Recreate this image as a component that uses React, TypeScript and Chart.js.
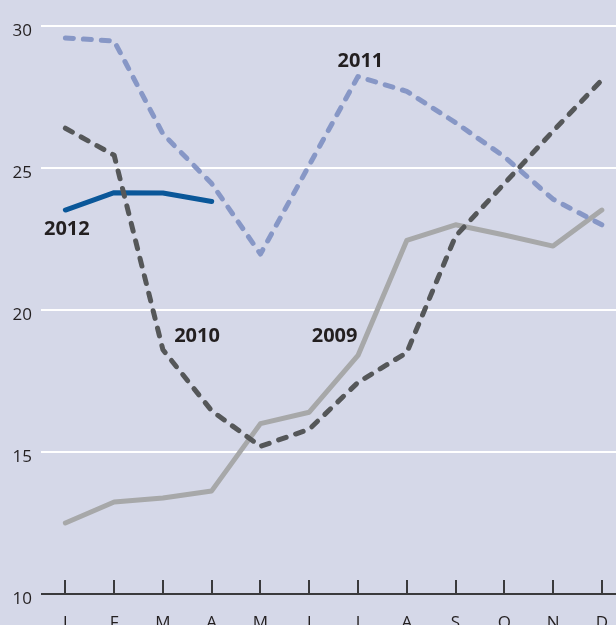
import React, { useEffect, useRef } from 'react';
import { Chart, registerables } from 'chart.js';
Chart.register(...registerables);

const months = ['J', 'F', 'M', 'A', 'M', 'J', 'J', 'A', 'S', 'O', 'N', 'D'];
const yTicks = [10, 15, 20, 25, 30];

const s2009 = [12.5, 13.24, 13.38, 13.63, 16.0, 16.4, 18.4, 22.45, 23.0, 22.64, 22.25, 23.52];
const s2010 = [26.4, 25.45, 18.6, 16.45, 15.2, 15.8, 17.45, 18.5, 22.6, 24.45, 26.3, 28.1];
const s2011 = [29.58, 29.47, 26.2, 24.45, 21.97, 25.1, 28.22, 27.7, 26.6, 25.4, 23.9, 23.0];
const s2012 = [23.52, 24.13, 24.12, 23.82];

const seriesNames = ['2009', '2010', '2011', '2012'];
// label anchor in data space: [category index, value]
const labelX = [5.52, 2.7, 6.05, 0.03];
const labelY = [19.08, 19.08, 28.75, 22.85];

const BG = '#d5d8e8';
const TEXT = '#231f20';
const C2009 = '#a7a8a9';
const C2010 = '#555759';
const C2011 = '#8797c6';
const C2012 = '#0a5799';
const FONT = '"Open Sans", "Noto Sans", sans-serif';

export default function App() {
  const ref = useRef<HTMLCanvasElement>(null);

  useEffect(() => {
    if (!ref.current) return;
    const bgPlugin = {
      id: 'bgFill',
      beforeDraw(chart: any) {
        const ctx = chart.ctx;
        ctx.save();
        ctx.fillStyle = BG;
        ctx.fillRect(0, 0, chart.width, chart.height);
        ctx.restore();
      },
    };
    const axisPlugin = {
      id: 'axisAndLabels',
      afterDraw(chart: any) {
        const ctx = chart.ctx;
        const xs = chart.scales.x;
        const ys = chart.scales.y;
        const yb = ys.getPixelForValue(yTicks[0]);
        ctx.save();
        ctx.strokeStyle = '#3a3a3c';
        ctx.lineWidth = 2;
        ctx.beginPath();
        ctx.moveTo(chart.chartArea.left, yb);
        ctx.lineTo(chart.chartArea.right, yb);
        months.forEach((_, i) => {
          const px = Math.round(xs.getPixelForValue(i));
          ctx.moveTo(px, yb);
          ctx.lineTo(px, yb - 14);
        });
        ctx.stroke();
        ctx.fillStyle = TEXT;
        ctx.font = `bold 20px ${FONT}`;
        ctx.textAlign = 'center';
        ctx.textBaseline = 'middle';
        seriesNames.forEach((n, i) => {
          ctx.fillText(n, xs.getPixelForValue(labelX[i]), ys.getPixelForValue(labelY[i]));
        });
        ctx.restore();
      },
    };

    const common = {
      pointRadius: 0,
      pointHoverRadius: 0,
      borderWidth: 5,
      tension: 0,
      fill: false,
      borderJoinStyle: 'round',
      borderCapStyle: 'round',
    };

    const chart = new Chart(ref.current, {
      type: 'line',
      data: {
        labels: months,
        datasets: [
          { ...common, label: '2009', data: s2009, borderColor: C2009, order: 3 },
          { ...common, label: '2011', data: s2011, borderColor: C2011, borderDash: [8, 10], order: 2 },
          { ...common, label: '2012', data: s2012, borderColor: C2012, order: 1 },
          { ...common, label: '2010', data: s2010, borderColor: C2010, borderDash: [8, 10], order: 0 },
        ] as any,
      },
      options: {
        responsive: false,
        animation: false,
        devicePixelRatio: 1,
        layout: { padding: { top: 26, left: 0, right: 0, bottom: 0 } },
        plugins: { legend: { display: false }, tooltip: { enabled: false } },
        scales: {
          x: {
            type: 'category',
            offset: true,
            grid: { display: false, drawTicks: false },
            border: { display: false },
            ticks: {
              color: TEXT,
              font: { family: FONT, size: 17 },
              padding: 19,
              maxRotation: 0,
              autoSkip: false,
            },
            afterFit: (s: any) => {
              s.height = 51;
            },
          },
          y: {
            min: 10,
            max: 30,
            afterBuildTicks: (s: any) => {
              s.ticks = yTicks.map((v) => ({ value: v }));
            },
            ticks: {
              color: TEXT,
              font: { family: FONT, size: 17 },
              padding: 9,
              labelOffset: 5,
            },
            grid: {
              color: (c: any) => (c.tick && c.tick.value === yTicks[0] ? 'rgba(0,0,0,0)' : '#ffffff'),
              lineWidth: 2,
              drawTicks: false,
            },
            border: { display: false },
            afterFit: (s: any) => {
              s.width = 41;
            },
          },
        },
      } as any,
      plugins: [bgPlugin, axisPlugin],
    });
    return () => chart.destroy();
  }, []);

  return (
    <div
      style={{
        position: 'fixed',
        left: 0,
        top: 0,
        width: 616,
        height: 625,
        overflow: 'hidden',
        background: BG,
      }}
    >
      <canvas ref={ref} width={627} height={645} style={{ display: 'block', width: 627, height: 645 }} />
    </div>
  );
}
